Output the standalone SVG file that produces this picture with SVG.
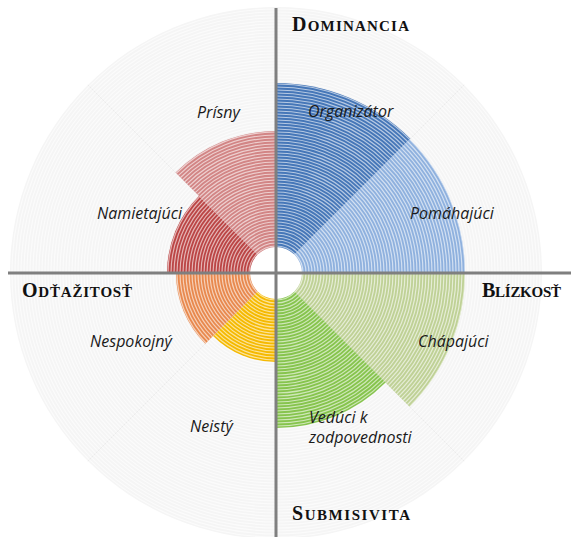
<svg xmlns="http://www.w3.org/2000/svg" width="571" height="537" viewBox="0 0 571 537">
<defs>
<path id="pOrg" d="M276,273 L276,83 A190,190 0 0 1 410.35,138.65 Z"/>
<path id="pPom" d="M276,273 L409.64,139.36 A189,189 0 0 1 465,273 Z"/>
<path id="pCha" d="M276,273 L465,273 A189,189 0 0 1 409.64,406.64 Z"/>
<path id="pVed" d="M276,273 L385.6,382.6 A155,155 0 0 1 276,428 Z"/>
<path id="pNei" d="M276,273 L276,362 A89,89 0 0 1 213.07,335.93 Z"/>
<path id="pNes" d="M276,273 L205.29,343.71 A100,100 0 0 1 176,273 Z"/>
<path id="pNam" d="M276,273 L167,273 A109,109 0 0 1 198.93,195.93 Z"/>
<path id="pPri" d="M276,273 L175.59,172.59 A142,142 0 0 1 276,131 Z"/>
<clipPath id="cOrg"><use href="#pOrg"/></clipPath>
<clipPath id="cPom"><use href="#pPom"/></clipPath>
<clipPath id="cCha"><use href="#pCha"/></clipPath>
<clipPath id="cVed"><use href="#pVed"/></clipPath>
<clipPath id="cNei"><use href="#pNei"/></clipPath>
<clipPath id="cNes"><use href="#pNes"/></clipPath>
<clipPath id="cNam"><use href="#pNam"/></clipPath>
<clipPath id="cPri"><use href="#pPri"/></clipPath>
<g id="rings" fill="none" stroke="#ffffff" stroke-width="1.2" stroke-opacity="0.6">
<circle cx="276" cy="273" r="3"/><circle cx="276" cy="273" r="6"/><circle cx="276" cy="273" r="9"/><circle cx="276" cy="273" r="12"/><circle cx="276" cy="273" r="15"/><circle cx="276" cy="273" r="18"/><circle cx="276" cy="273" r="21"/><circle cx="276" cy="273" r="24"/><circle cx="276" cy="273" r="27"/><circle cx="276" cy="273" r="30"/>
<circle cx="276" cy="273" r="33"/><circle cx="276" cy="273" r="36"/><circle cx="276" cy="273" r="39"/><circle cx="276" cy="273" r="42"/><circle cx="276" cy="273" r="45"/><circle cx="276" cy="273" r="48"/><circle cx="276" cy="273" r="51"/><circle cx="276" cy="273" r="54"/><circle cx="276" cy="273" r="57"/><circle cx="276" cy="273" r="60"/>
<circle cx="276" cy="273" r="63"/><circle cx="276" cy="273" r="66"/><circle cx="276" cy="273" r="69"/><circle cx="276" cy="273" r="72"/><circle cx="276" cy="273" r="75"/><circle cx="276" cy="273" r="78"/><circle cx="276" cy="273" r="81"/><circle cx="276" cy="273" r="84"/><circle cx="276" cy="273" r="87"/><circle cx="276" cy="273" r="90"/>
<circle cx="276" cy="273" r="93"/><circle cx="276" cy="273" r="96"/><circle cx="276" cy="273" r="99"/><circle cx="276" cy="273" r="102"/><circle cx="276" cy="273" r="105"/><circle cx="276" cy="273" r="108"/><circle cx="276" cy="273" r="111"/><circle cx="276" cy="273" r="114"/><circle cx="276" cy="273" r="117"/><circle cx="276" cy="273" r="120"/>
<circle cx="276" cy="273" r="123"/><circle cx="276" cy="273" r="126"/><circle cx="276" cy="273" r="129"/><circle cx="276" cy="273" r="132"/><circle cx="276" cy="273" r="135"/><circle cx="276" cy="273" r="138"/><circle cx="276" cy="273" r="141"/><circle cx="276" cy="273" r="144"/><circle cx="276" cy="273" r="147"/><circle cx="276" cy="273" r="150"/>
<circle cx="276" cy="273" r="153"/><circle cx="276" cy="273" r="156"/><circle cx="276" cy="273" r="159"/><circle cx="276" cy="273" r="162"/><circle cx="276" cy="273" r="165"/><circle cx="276" cy="273" r="168"/><circle cx="276" cy="273" r="171"/><circle cx="276" cy="273" r="174"/><circle cx="276" cy="273" r="177"/><circle cx="276" cy="273" r="180"/>
<circle cx="276" cy="273" r="183"/><circle cx="276" cy="273" r="186"/><circle cx="276" cy="273" r="189"/><circle cx="276" cy="273" r="192"/><circle cx="276" cy="273" r="195"/><circle cx="276" cy="273" r="198"/><circle cx="276" cy="273" r="201"/><circle cx="276" cy="273" r="204"/><circle cx="276" cy="273" r="207"/><circle cx="276" cy="273" r="210"/>
<circle cx="276" cy="273" r="213"/><circle cx="276" cy="273" r="216"/><circle cx="276" cy="273" r="219"/><circle cx="276" cy="273" r="222"/><circle cx="276" cy="273" r="225"/><circle cx="276" cy="273" r="228"/><circle cx="276" cy="273" r="231"/><circle cx="276" cy="273" r="234"/><circle cx="276" cy="273" r="237"/><circle cx="276" cy="273" r="240"/>
<circle cx="276" cy="273" r="243"/><circle cx="276" cy="273" r="246"/><circle cx="276" cy="273" r="249"/><circle cx="276" cy="273" r="252"/><circle cx="276" cy="273" r="255"/><circle cx="276" cy="273" r="258"/><circle cx="276" cy="273" r="261"/><circle cx="276" cy="273" r="264"/>
</g>
</defs>
<style>
.lbl{font-family:"Open Sans","Liberation Sans",sans-serif;font-style:italic;font-size:16px;fill:#1a1a1a}
.ttl{font-family:"Liberation Serif","Times New Roman",serif;font-weight:bold;fill:#111}
.big{font-size:20px}
.sm{font-size:15px}
.axis{stroke:#7f7f7f;stroke-width:3}
.div{stroke:#ebebeb;stroke-width:1}
</style>
<rect width="571" height="537" fill="#ffffff"/>
<g id="background">
<circle cx="276" cy="273" r="266" fill="#f5f5f5"/>
<line class="div" x1="276" y1="273" x2="464.1" y2="84.9"/>
<line class="div" x1="276" y1="273" x2="464.1" y2="461.1"/>
<line class="div" x1="276" y1="273" x2="87.9" y2="461.1"/>
<line class="div" x1="276" y1="273" x2="87.9" y2="84.9"/>
<use href="#rings"/>
</g>
<g id="organizator"><use href="#pOrg" fill="#4677b8"/><use href="#rings" clip-path="url(#cOrg)"/><text class="lbl" x="308" y="117">Organizátor</text></g>
<g id="pomahajuci"><use href="#pPom" fill="#8fb1de"/><use href="#rings" clip-path="url(#cPom)"/><text class="lbl" x="410" y="219">Pomáhajúci</text></g>
<g id="chapajuci"><use href="#pCha" fill="#bfd196"/><use href="#rings" clip-path="url(#cCha)"/><text class="lbl" x="418" y="347">Chápajúci</text></g>
<g id="veduci"><use href="#pVed" fill="#86c44d"/><use href="#rings" clip-path="url(#cVed)"/><text class="lbl" x="309" y="423">Vedúci k</text><text class="lbl" x="309" y="443">zodpovednosti</text></g>
<g id="neisty"><use href="#pNei" fill="#f5b900"/><use href="#rings" clip-path="url(#cNei)"/><text class="lbl" x="190" y="432">Neistý</text></g>
<g id="nespokojny"><use href="#pNes" fill="#e8894e"/><use href="#rings" clip-path="url(#cNes)"/><text class="lbl" x="90" y="347">Nespokojný</text></g>
<g id="namietajuci"><use href="#pNam" fill="#bb4545"/><use href="#rings" clip-path="url(#cNam)"/><text class="lbl" x="97" y="219">Namietajúci</text></g>
<g id="prisny"><use href="#pPri" fill="#d28585"/><use href="#rings" clip-path="url(#cPri)"/><text class="lbl" x="197" y="118">Prísny</text></g>
<circle id="hub" cx="276" cy="273" r="26" fill="#ffffff"/>
<g id="connectors">
<line class="axis" x1="276" y1="8" x2="276" y2="537"/>
<line class="axis" x1="8" y1="273" x2="571" y2="273"/>
</g>
<g id="titles">
<text class="ttl" x="292" y="31" textLength="117" lengthAdjust="spacing"><tspan class="big">D</tspan><tspan class="sm">OMINANCIA</tspan></text>
<text class="ttl" x="22" y="297" textLength="110" lengthAdjust="spacing"><tspan class="big">O</tspan><tspan class="sm">DŤAŽITOSŤ</tspan></text>
<text class="ttl" x="482" y="297" textLength="79" lengthAdjust="spacing"><tspan class="big">B</tspan><tspan class="sm">LÍZKOSŤ</tspan></text>
<text class="ttl" x="292" y="520" textLength="118" lengthAdjust="spacing"><tspan class="big">S</tspan><tspan class="sm">UBMISIVITA</tspan></text>
</g>
</svg>
